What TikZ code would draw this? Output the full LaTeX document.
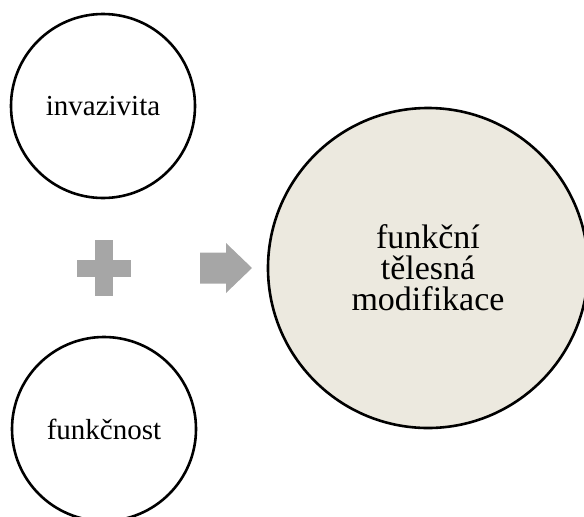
\documentclass[tikz,border=0pt]{standalone}
\usepackage{fontspec}
\setmainfont{Liberation Serif}
\usetikzlibrary{positioning, calc}

\definecolor{signgray}{HTML}{A6A6A6}
\definecolor{resultfill}{HTML}{ECE9DF}

\tikzset{
    smallcirc/.style={circle, draw, line width=2.6pt, minimum size=184pt, inner sep=0pt, font=\fontsize{29}{30}\selectfont},
    bigcirc/.style={circle, draw, line width=2.6pt, fill=resultfill, minimum size=320pt, inner sep=0pt, align=center, font=\fontsize{34}{31}\selectfont},
    signshape/.style={fill=signgray, draw=none},
}

\begin{document}
\begin{tikzpicture}[x=1pt, y=-1pt]
    \useasboundingbox (0,0) rectangle (584,517);
    \clip (0,0) rectangle (584,517);

    \node (invazivita) at (103,106) [smallcirc] {invazivita};
    \node (funkcnost) at (104,429) [smallcirc] {funkčnost};
    \node (modifikace) at (428,268) [bigcirc] {funkční\\tělesná\\modifikace};

    % plus between the two small circles
    \coordinate (plus) at (104,268);
    \fill[signshape] ($(plus)+(-9,-28)$) rectangle ($(plus)+(9,28)$);
    \fill[signshape] ($(plus)+(-27,-8.5)$) rectangle ($(plus)+(27,8.5)$);

    % arrow towards the result
    \coordinate[right=148pt of plus] (arrow tip) ;
    \fill[signshape] ($(arrow tip)+(-52,-15.5)$) -- ($(arrow tip)+(-26,-15.5)$) -- ($(arrow tip)+(-26,-25)$)
        -- (arrow tip) -- ($(arrow tip)+(-26,25)$) -- ($(arrow tip)+(-26,15.5)$) -- ($(arrow tip)+(-52,15.5)$) -- cycle;
\end{tikzpicture}
\end{document}
